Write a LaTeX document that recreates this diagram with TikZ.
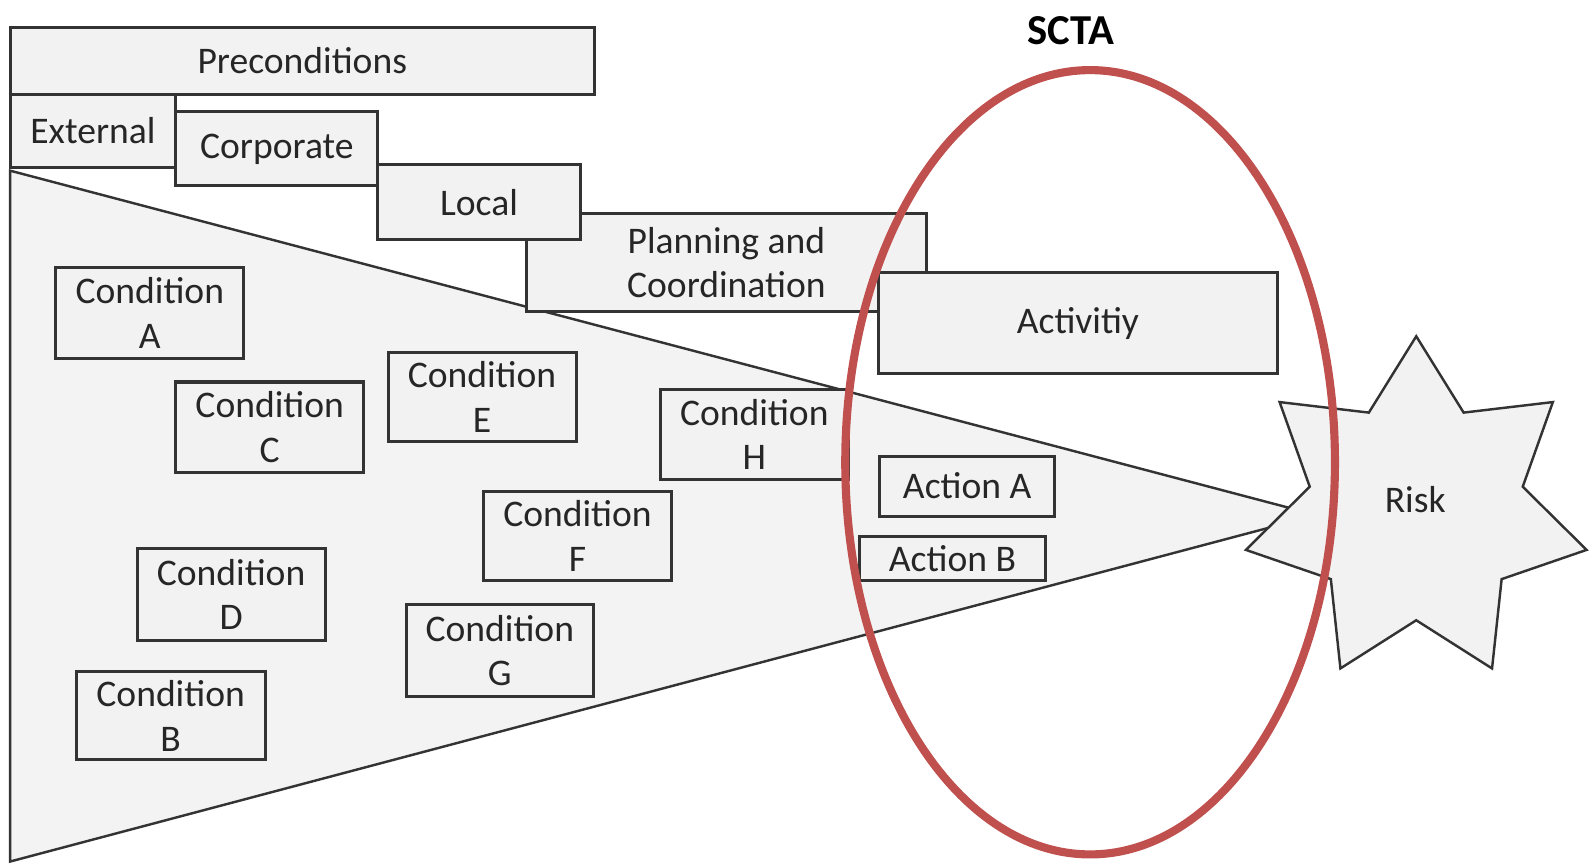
\documentclass[tikz,border=0pt]{standalone}
\usepackage{fontspec}
\setmainfont{Carlito}
\usetikzlibrary{shapes.geometric}
\definecolor{boxfill}{HTML}{F2F2F2}
\definecolor{trifill}{HTML}{F3F3F3}
\definecolor{edge}{HTML}{333333}
\definecolor{sctared}{HTML}{C0504D}
\begin{document}
\begin{tikzpicture}[x=0.5pt,y=-0.5pt,
  box/.style={draw=edge, fill=boxfill, line width=1.5pt, inner sep=0pt, align=center,
    font=\fontsize{18.5}{22}\selectfont, text=black!85},
  cond/.style={box, minimum width=92.5pt, minimum height=45pt},
]
\useasboundingbox (0,0) rectangle (1568,850);
% wedge
\path[draw=edge, fill=trifill, line width=1.2pt, line join=miter]
  (10,168) -- (1296,507) -- (10,848) -- cycle;
% precondition boxes
\node[box, minimum width=287.5pt, minimum height=33pt] (pre) at (297.5,60) {Preconditions};
\node[box, minimum width=81.5pt, minimum height=36pt] (ext) at (91.5,129) {External};
\node[box, minimum width=99.5pt, minimum height=36.5pt] (corp) at (272.5,146.5) {Corporate};
\node[box, minimum width=197pt, minimum height=48.5pt] (plan) at (715,258.5) {Planning and\\Coordination};
\node[box, minimum width=99.5pt, minimum height=37pt] (local) at (471.5,199) {Local};
\node[box, minimum width=196pt, minimum height=50pt] (act) at (1061,318) {Activitiy};
% conditions
\node[cond] (ca) at (147.5,308) {Condition\\A};
\node[cond, minimum height=44.5pt] (cc) at (265.5,420.5) {Condition\\C};
\node[cond, minimum height=44pt] (ce) at (474.5,391) {Condition\\E};
\node[cond, minimum height=44.5pt] (ch) at (742.5,427.5) {Condition\\H};
\node[cond, minimum height=43.5pt] (cf) at (568.5,527.5) {Condition\\F};
\node[cond] (cd) at (227.5,585) {Condition\\D};
\node[cond, minimum width=92pt, minimum height=45.5pt] (cg) at (492,640.5) {Condition\\G};
\node[cond, minimum width=93pt, minimum height=43.5pt] (cb) at (168,704.5) {Condition\\B};
% actions
\node[box, minimum width=86pt, minimum height=29.5pt] (aa) at (952,478.5) {Action A};
\node[box, minimum width=91.5pt, minimum height=21.5pt] (ab) at (937.5,549.5) {Action B};
% risk star
\node[star, star points=7, star point ratio=1.6, minimum size=172pt, inner sep=0pt,
  draw=edge, fill=boxfill, line width=1.2pt] (risk) at (1394,503) {};
\node[font=\fontsize{18.5}{22}\selectfont, text=black!85] (risktext) at (1393,492) {Risk};
% SCTA ellipse
\node[ellipse, draw=sctared, line width=4pt, minimum width=241pt, minimum height=386pt,
  inner sep=0pt] (scta) at (1073,455) {};
\node[font=\fontsize{21}{25}\selectfont\bfseries] (sctatitle) at (1054,30) {SCTA};
\end{tikzpicture}
\end{document}
